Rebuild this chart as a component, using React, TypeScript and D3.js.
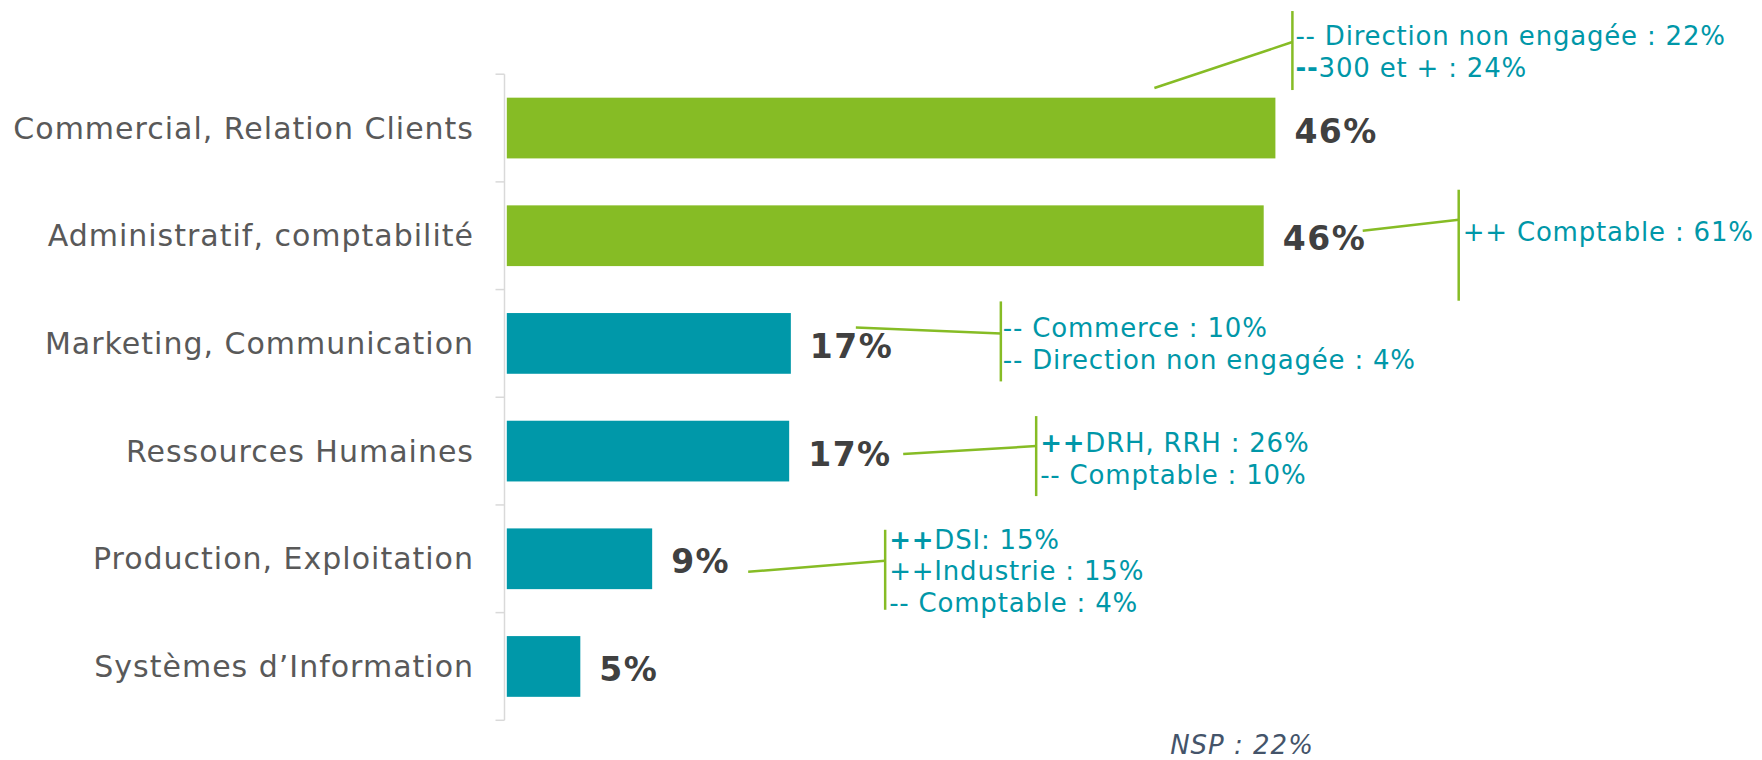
import React from "react";
import * as d3 from "d3";

const categories = [
  "Commercial, Relation Clients",
  "Administratif, comptabilité",
  "Marketing, Communication",
  "Ressources Humaines",
  "Production, Exploitation",
  "Systèmes d\u2019Information",
];
const values = [46.0, 45.3, 17.0, 16.9, 8.7, 4.4];
const valueLabels = ["46%", "46%", "17%", "17%", "9%", "5%"];
const barColors = ["#86BC25", "#86BC25", "#0098A9", "#0098A9", "#0098A9", "#0098A9"];

// annotation texts: [boldPrefix, rest]
const annotationTexts: [string, string][][] = [
  [["", "-- Direction non engagée : 22%"], ["--", "300 et + : 24%"]],
  [["", "++ Comptable : 61%"]],
  [["", "-- Commerce : 10%"], ["", "-- Direction non engagée : 4%"]],
  [["++", "DRH, RRH : 26%"], ["", "-- Comptable : 10%"]],
  [["++", "DSI: 15%"], ["", "++Industrie : 15%"], ["", "-- Comptable : 4%"]],
  [],
];
const nspText = "NSP : 22%";

// layout offsets relative to bar end (dx) and bar center (dy)
const annotationLayout = [
  { sx: -121, sy: -40, vx: 17, vTop: -117, vBot: -38, ey: -86, tx: 20, ty: -92 },
  { sx: 99, sy: -5, vx: 195, vTop: -46, vBot: 65, ey: -16, tx: 199, ty: -4 },
  { sx: 65, sy: -16, vx: 210, vTop: -42, vBot: 38, ey: -10, tx: 212, ty: -15 },
  { sx: 114, sy: 3, vx: 247, vTop: -35, vBot: 45, ey: -5, tx: 251, ty: -8 },
  { sx: 96, sy: 13, vx: 233, vTop: -29, vBot: 51, ey: 2, tx: 237, ty: -19 },
  null,
];

const W = 1762;
const H = 760;
const FONT = "'DejaVu Sans', Verdana, sans-serif";

export default function App() {
  const x0 = 506.8;
  const x = d3.scaleLinear().domain([0, 46]).range([x0, 1275.4]);
  const y = d3
    .scaleBand<string>()
    .domain(categories)
    .range([74.2, 720.3])
    .paddingInner(0.436)
    .paddingOuter(0.218);
  const band = y.step();
  const axisX = 504.5;
  const tickYs = d3.range(categories.length + 1).map((i) => 74.2 + i * band);
  const green = "#86BC25";
  const teal = "#0097A8";
  const lineH = 31.5;

  return (
    <svg
      width={W}
      height={H}
      style={{ position: "absolute", left: 0, top: 0, background: "#fff" }}
      fontFamily={FONT}
    >
      {/* axis */}
      <line x1={axisX} x2={axisX} y1={tickYs[0]} y2={tickYs[tickYs.length - 1]} stroke="#D9D9D9" strokeWidth={1.5} />
      {tickYs.map((t, i) => (
        <line key={i} x1={axisX - 9} x2={axisX} y1={t} y2={t} stroke="#D9D9D9" strokeWidth={1.5} />
      ))}
      {categories.map((c, i) => {
        const yc = (y(c) as number) + y.bandwidth() / 2;
        return (
          <g key={c}>
            <text x={474} y={yc} textAnchor="end" dominantBaseline="central" fontSize={30} letterSpacing={1} fill="#595959">
              {c}
            </text>
            <rect x={x0} y={y(c)} width={x(values[i]) - x0} height={y.bandwidth()} fill={barColors[i]} />
            <text
              x={x(values[i]) + 19}
              y={yc + 3}
              dominantBaseline="central"
              fontSize={33}
              letterSpacing={1.5}
              fontWeight="bold"
              fill="#404040"
            >
              {valueLabels[i]}
            </text>
          </g>
        );
      })}
      {/* annotations */}
      {categories.map((c, i) => {
        const L = annotationLayout[i];
        if (!L) return null;
        const xe = x(values[i]);
        const yc = (y(c) as number) + y.bandwidth() / 2;
        return (
          <g key={"a" + i}>
            <line x1={xe + L.sx} y1={yc + L.sy} x2={xe + L.vx} y2={yc + L.ey} stroke={green} strokeWidth={2.5} />
            <line x1={xe + L.vx} x2={xe + L.vx} y1={yc + L.vTop} y2={yc + L.vBot} stroke={green} strokeWidth={2.5} />
            {annotationTexts[i].map((t, j) => (
              <text
                key={j}
                x={xe + L.tx}
                y={yc + L.ty + j * lineH}
                dominantBaseline="central"
                fontSize={26}
                letterSpacing={0.8}
                fill={teal}
              >
                {t[0] ? <tspan fontWeight="bold">{t[0]}</tspan> : null}
                <tspan>{t[1]}</tspan>
              </text>
            ))}
          </g>
        );
      })}
      <text x={1242} y={745} textAnchor="middle" dominantBaseline="central" fontSize={26} letterSpacing={1} fontStyle="italic" fill="#44546A">
        {nspText}
      </text>
    </svg>
  );
}
